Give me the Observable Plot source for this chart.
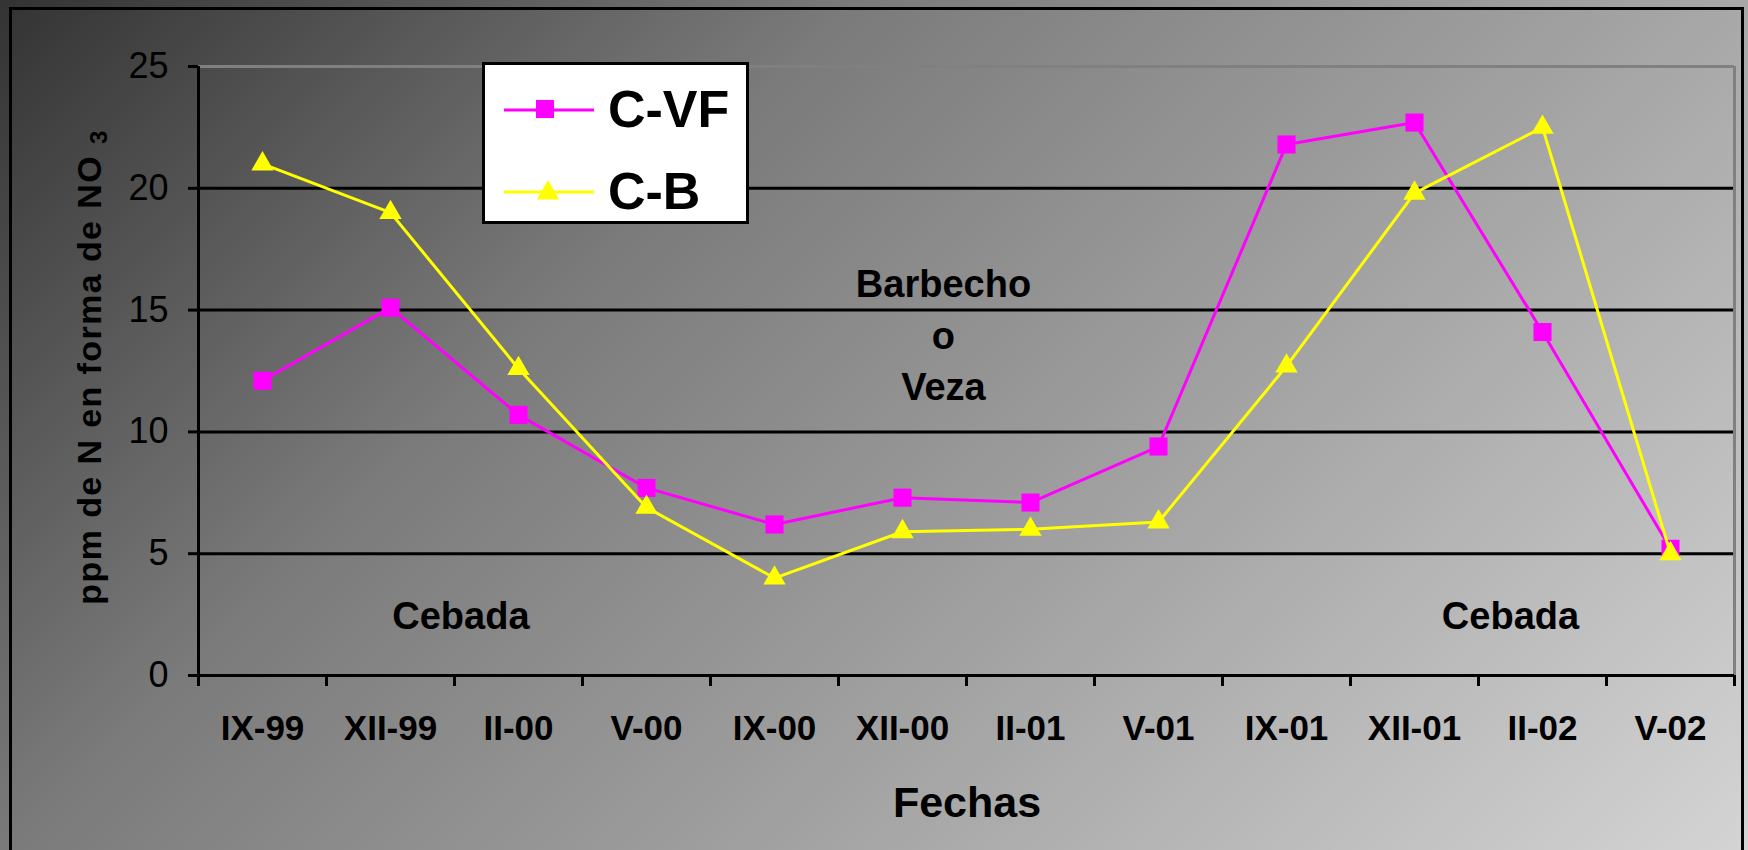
<!DOCTYPE html>
<html>
<head>
<meta charset="utf-8">
<script src="https://cdn.jsdelivr.net/npm/d3@7"></script>
<script src="https://cdn.jsdelivr.net/npm/@observablehq/plot@0.6"></script>
<style>
  html, body { margin: 0; padding: 0; }
  body {
    width: 1748px; height: 850px; overflow: hidden;
    background: linear-gradient(135deg, #333333 0%, #7a7a7a 32.7%, #a8a8a8 67.3%, #d4d4d4 100%);
    font-family: "Liberation Sans", Arial, sans-serif;
  }
  #chart { position: absolute; left: 0; top: 0; }
</style>
</head>
<body>
<div id="chart"></div>
<script>
// ---- data ----
const categories = ["IX-99","XII-99","II-00","V-00","IX-00","XII-00","II-01","V-01","IX-01","XII-01","II-02","V-02"];
const seriesNames = ["C-VF", "C-B"];
const cvfValues = [12.1, 15.1, 10.7, 7.7, 6.2, 7.3, 7.1, 9.4, 21.8, 22.7, 14.1, 5.2];
const cbValues  = [21.0, 19.0, 12.6, 6.9, 4.0, 5.9, 6.0, 6.3, 12.7, 19.8, 22.5, 5.0];
const yTicks = [0, 5, 10, 15, 20, 25];
const yTitle = "ppm de N en forma de NO ";
const yTitleSub = "3";
const xTitle = "Fechas";
const annotationTexts = ["Barbecho\no\nVeza", "Cebada", "Cebada"];
const annotationX = [5.32, 1.55, 9.75];
const annotationY = [14.1, 2.6, 2.6];

// ---- build ----
const colors = ["#FF00FF", "#FFFF00"];
const symbols = ["square", "triangle"];
const radii = [10.2, 8.3];
const rowsCVF = categories.map((c, i) => ({i, v: cvfValues[i]}));
const rowsCB = categories.map((c, i) => ({i, v: cbValues[i]}));
const annotations = annotationTexts.map((t, k) => ({t, x: annotationX[k], y: annotationY[k]}));
const font = "'Liberation Sans', Arial, sans-serif";

const chart = Plot.plot({
  width: 1748,
  height: 850,
  marginLeft: 198,
  marginRight: 14,
  marginTop: 66,
  marginBottom: 175,
  style: {background: "transparent", fontFamily: font, color: "black", overflow: "visible"},
  x: {domain: [-0.5, categories.length - 0.5], label: null},
  y: {domain: [0, 25], label: null},
  marks: [
    Plot.ruleY(yTicks.filter(d => d > 0 && d < 25), {stroke: "black", strokeWidth: 3}),
    Plot.ruleY([25], {stroke: "#808080", strokeWidth: 3}),
    Plot.ruleX([categories.length - 0.5], {stroke: "#808080", strokeWidth: 3}),
    Plot.axisY({ticks: yTicks, tickSize: 10, tickPadding: 20, fontSize: 36, strokeWidth: 3, label: null}),
    Plot.axisX({ticks: categories.map((c, i) => i), tickSize: 0, tickPadding: 40,
                tickFormat: i => categories[i], fontSize: 35, fontWeight: "bold", label: null}),
    Plot.axisX({ticks: d3.range(categories.length + 1).map(i => i - 0.5), tickSize: 11,
                strokeWidth: 3, tickFormat: () => "", label: null}),
    Plot.ruleX([-0.5], {stroke: "black", strokeWidth: 3}),
    Plot.ruleY([0], {stroke: "black", strokeWidth: 3}),
    Plot.line(rowsCVF, {x: "i", y: "v", stroke: colors[0], strokeWidth: 3}),
    Plot.dot(rowsCVF, {x: "i", y: "v", symbol: symbols[0], r: radii[0], fill: colors[0], stroke: "none"}),
    Plot.line(rowsCB, {x: "i", y: "v", stroke: colors[1], strokeWidth: 3}),
    Plot.dot(rowsCB, {x: "i", y: "v", symbol: symbols[1], r: radii[1], fill: colors[1], stroke: "none"}),
    Plot.text(annotations, {x: "x", y: "y", text: "t", fontSize: 38, fontWeight: "bold",
                            lineHeight: 1.355, fill: "black", lineAnchor: "middle"})
  ]
});

document.getElementById("chart").appendChild(chart);
const svg = d3.select(chart);

// outer frame
svg.append("rect")
  .attr("x", 10.5).attr("y", 8.5).attr("width", 1732).attr("height", 900)
  .attr("fill", "none").attr("stroke", "black").attr("stroke-width", 3);

// y title
const yt = svg.append("text")
  .attr("transform", "translate(101,367) rotate(-90)")
  .attr("text-anchor", "middle")
  .attr("font-family", font)
  .attr("font-weight", "bold")
  .attr("font-size", 34)
  .attr("letter-spacing", "1.4px")
  .attr("fill", "black");
yt.append("tspan").text(yTitle);
yt.append("tspan").attr("font-size", 24).attr("dy", 6).text(yTitleSub);

// x title
svg.append("text")
  .attr("x", 967).attr("y", 817)
  .attr("text-anchor", "middle")
  .attr("font-family", font)
  .attr("font-weight", "bold")
  .attr("font-size", 43)
  .attr("fill", "black")
  .text(xTitle);

// legend
const lg = svg.append("g");
lg.append("rect").attr("x", 483.5).attr("y", 63.5).attr("width", 264).attr("height", 159)
  .attr("fill", "white").attr("stroke", "black").attr("stroke-width", 3);
const legendRows = [110, 192];
const symGen = [d3.symbolSquare, d3.symbolTriangle];
seriesNames.forEach((name, k) => {
  const y = legendRows[k];
  lg.append("line").attr("x1", 504).attr("x2", 594).attr("y1", y).attr("y2", y)
    .attr("stroke", colors[k]).attr("stroke-width", 3);
  lg.append("path")
    .attr("transform", `translate(${k === 0 ? 545 : 548},${k === 0 ? 109 : 193})`)
    .attr("d", d3.symbol(symGen[k], Math.PI * radii[k] * radii[k])())
    .attr("fill", colors[k]);
  lg.append("text").attr("x", 608).attr("y", y + 17)
    .attr("text-anchor", "start")
    .attr("font-family", font).attr("font-weight", "bold").attr("font-size", 52)
    .attr("fill", "black").text(name);
});
</script>
</body>
</html>
